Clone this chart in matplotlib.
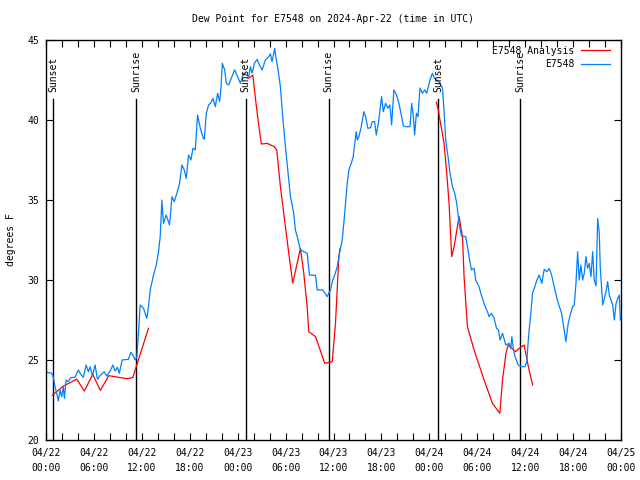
import numpy as np
import matplotlib
matplotlib.use("Agg")
import matplotlib.pyplot as plt
from matplotlib.ticker import MultipleLocator

plt.rcParams['font.family'] = ['DejaVu Sans Mono']
plt.rcParams['font.size'] = 7

title = "Dew Point for E7548 on 2024-Apr-22 (time in UTC)"
ylabel = "degrees F"

# hours since 2024-04-22 00:00 UTC
obs_hours = [0.13, 0.72, 0.92, 1.13, 1.34, 1.54, 1.76, 1.97, 2.17, 2.30, 2.51, 2.80, 3.10, 3.64, 4.05, 4.35,
             4.68, 5.02, 5.31, 5.52, 5.81, 6.15, 6.44, 6.77, 7.28, 7.61, 8.12, 8.37, 8.66, 8.94, 9.19, 9.53,
             10.32, 10.62, 10.88, 11.16, 11.38, 11.58, 11.79, 12.21, 12.63, 12.83, 13.05, 13.46, 13.80, 14.09,
             14.30, 14.51, 14.71, 15.05, 15.47, 15.77, 16.06, 16.39, 16.72, 17.02, 17.31, 17.56, 17.85, 18.15,
             18.40, 18.69, 18.98, 19.32, 19.66, 19.82, 20.07, 20.36, 20.66, 20.91, 21.20, 21.49, 21.74, 21.91,
             22.08, 22.37, 22.58, 22.87, 23.29, 23.62, 24.00, 24.34, 24.75, 25.38, 25.59, 25.80, 26.09, 26.43,
             26.72, 27.06, 27.47, 27.89, 28.10, 28.31, 28.64, 28.81, 29.06, 29.35, 29.64, 29.98, 30.32, 30.61,
             31.02, 31.23, 31.57, 31.86, 32.70, 32.99, 33.74, 33.96, 34.66, 35.21, 35.62, 35.91, 36.16, 36.47,
             36.75, 37.09, 37.29, 37.51, 37.72, 37.92, 38.22, 38.47, 38.64, 38.85, 38.97, 39.18, 39.48, 39.80,
             40.02, 40.30, 40.64, 40.86, 41.14, 41.36, 41.68, 42.02, 42.24, 42.52, 42.81, 43.06, 43.28, 43.56,
             43.90, 44.19, 44.49, 44.74, 45.03, 45.57, 45.79, 46.00, 46.16, 46.38, 46.58, 46.83, 47.13, 47.42,
             47.67, 47.83, 48.08, 48.38, 48.67, 49.21, 49.64, 49.84, 50.05, 50.34, 50.59, 50.89, 51.18, 51.43,
             51.72, 52.02, 52.56, 52.78, 52.97, 53.27, 53.60, 53.81, 54.23, 54.44, 54.78, 55.07, 55.28, 55.48,
             55.78, 56.11, 56.41, 56.66, 56.86, 57.16, 57.58, 57.99, 58.20, 58.33, 58.54, 58.74, 59.12, 59.55,
             59.96, 60.21, 60.30, 60.50, 60.71, 60.92, 61.21, 61.47, 61.75, 62.09, 62.38, 62.72, 63.01, 63.31,
             63.64, 63.97, 64.26, 64.56, 64.81, 65.10, 65.39, 65.64, 65.94, 66.15, 66.36, 66.57, 66.77, 66.98,
             67.20, 67.40, 67.61, 67.82, 68.03, 68.24, 68.45, 68.65, 68.87, 69.08, 69.28, 69.40, 69.58, 69.71,
             69.91, 70.12, 70.33, 70.53, 70.75, 70.96, 71.16, 71.38, 71.59, 71.79, 71.92]
obs_dewpt = [24.23, 24.17, 23.92, 23.33, 22.92, 22.44, 23.13, 22.71, 23.33, 22.60, 23.75, 23.65, 23.90, 23.92, 24.38, 24.10,
             23.92, 24.69, 24.27, 24.58, 24.00, 24.69, 23.79, 24.02, 24.27, 24.00, 24.38, 24.69, 24.31, 24.54, 24.17, 25.00,
             25.04, 25.48, 25.31, 25.00, 25.21, 26.67, 28.44, 28.23, 27.60, 28.33, 29.38, 30.31, 30.94, 31.77,
             32.71, 35.00, 33.54, 34.06, 33.44, 35.21, 34.90, 35.42, 36.04, 37.19, 36.88, 36.35, 37.81, 37.50,
             38.23, 38.13, 40.31, 39.48, 38.92, 38.79, 40.42, 40.94, 41.08, 41.35, 40.83, 41.67, 41.15, 42.00,
             43.54, 43.13, 42.29, 42.19, 42.71, 43.13, 42.71, 42.29, 42.92, 42.71, 43.33, 42.92, 43.54, 43.79,
             43.44, 43.13, 43.75, 43.96, 44.13, 43.65, 44.48, 43.85, 43.13, 42.08, 40.21, 38.33, 36.67, 35.21,
             34.17, 33.13, 32.50, 31.88, 31.67, 30.31, 30.29, 29.38, 29.38, 28.96, 29.38, 30.00, 30.31, 30.83,
             31.67, 32.50, 33.54, 34.79, 36.04, 36.88, 37.29, 37.71, 38.44, 39.27, 38.75, 38.96, 39.58, 40.52,
             40.21, 39.48, 39.52, 39.90, 39.90, 39.06, 40.00, 41.46, 40.52, 41.04, 40.73, 40.94, 39.69, 41.88,
             41.56, 41.04, 40.31, 39.63, 39.58, 39.58, 41.04, 40.21, 39.06, 40.42, 40.21, 42.00, 41.67, 41.88,
             41.67, 42.00, 42.50, 42.92, 42.60, 42.40, 42.00, 40.63, 38.75, 37.71, 36.67, 35.83, 35.42, 34.79,
             33.54, 32.75, 32.71, 32.08, 31.46, 30.63, 30.73, 30.00, 29.58, 29.17, 28.65, 28.23, 28.02, 27.71,
             27.92, 27.60, 26.98, 26.88, 26.25, 26.67, 25.94, 26.04, 25.73, 26.46, 25.63, 25.21, 24.69, 24.58,
             24.58, 24.90, 25.63, 26.88, 27.92, 29.17, 29.58, 30.00, 30.31, 29.79, 30.67, 30.52, 30.73, 30.31,
             29.58, 28.85, 28.38, 27.92, 27.08, 26.15, 27.29, 27.81, 28.33, 28.44, 29.79, 31.77, 30.00, 30.94,
             30.00, 30.42, 31.46, 30.73, 31.04, 30.21, 31.77, 30.00, 29.63, 33.85, 32.92, 30.83, 29.38, 28.44,
             28.85, 29.27, 29.90, 29.06, 28.75, 28.44, 27.50, 28.54, 28.85, 29.06, 27.50]

nan = float('nan')
ana_hours = [0.79, 2.17, 3.85, 4.80, 5.85, 6.80, 7.86, 9.28, 10.20, 10.87, 11.37, 12.83, 19.0,
             25.30, 25.90, 26.20, 26.60, 26.97, 27.70, 28.60, 28.90, 29.35, 29.98, 30.40, 30.90, 31.86,
             32.28, 32.70, 32.90, 33.75, 34.40, 34.90, 35.84, 36.25, 36.67, 36.80, 43.0,
             48.88, 49.08, 49.84, 50.18, 50.47, 50.80, 51.10, 51.72, 52.15, 52.35, 52.77, 53.60, 54.86,
             55.90, 56.83, 57.16, 57.60, 57.87, 58.80, 59.25, 59.87, 60.40, 60.93]
ana_dewpt = [22.79, 23.37, 23.80, 23.06, 24.10, 23.10, 24.02, 23.90, 23.83, 23.90, 24.69, 26.98, nan,
             42.60, 42.80, 41.45, 39.80, 38.50, 38.54, 38.33, 38.10, 35.83, 33.33, 31.67, 29.80, 31.98,
             30.42, 28.33, 26.77, 26.46, 25.52, 24.79, 24.90, 27.30, 31.46, 31.94, nan,
             41.10, 40.73, 38.54, 36.67, 34.79, 31.46, 32.08, 33.96, 32.71, 30.21, 27.08, 25.63, 23.75,
             22.29, 21.67, 23.75, 25.42, 25.94, 25.52, 25.73, 25.94, 24.58, 23.44]

sun_hours = [0.92, 11.33, 25.0, 35.42, 49.09, 59.38]
sun_labels = ["Sunset", "Sunrise", "Sunset", "Sunrise", "Sunset", "Sunrise"]
sun_line_top = 41.3

xtick_hours = list(range(0, 73, 6))
xtick_labels = ["04/22\n00:00", "04/22\n06:00", "04/22\n12:00", "04/22\n18:00",
                "04/23\n00:00", "04/23\n06:00", "04/23\n12:00", "04/23\n18:00",
                "04/24\n00:00", "04/24\n06:00", "04/24\n12:00", "04/24\n18:00",
                "04/25\n00:00"]
ytick_vals = [20, 25, 30, 35, 40, 45]

fig = plt.figure(figsize=(6.4, 4.8), dpi=100)
ax = fig.add_axes([46/640, 40/480, (621-46)/640, 400/480])

for h, lab in zip(sun_hours, sun_labels):
    ax.plot([h, h], [20, sun_line_top], color='black', lw=1.0)
    ax.text(h, 41.75, lab, rotation=90, ha='center', va='bottom', fontsize=7)

ax.plot(ana_hours, ana_dewpt, color='#ff0000', lw=0.9, label='E7548 Analysis')
ax.plot(obs_hours, obs_dewpt, color='#0080ff', lw=0.9, label='E7548')

ax.set_xlim(0, 72)
ax.set_ylim(20, 45)
ax.set_xticks(xtick_hours)
ax.set_xticklabels(xtick_labels, linespacing=1.6)
ax.xaxis.set_minor_locator(MultipleLocator(2))
ax.set_yticks(ytick_vals)
ax.tick_params(axis='both', which='both', direction='in', top=True, right=True,
               length=5, width=0.8, labelsize=7)
ax.tick_params(axis='x', which='major', pad=6)
ax.tick_params(axis='y', which='major', pad=5)
for s in ax.spines.values():
    s.set_linewidth(1.0)

ax.set_ylabel(ylabel, fontsize=7, labelpad=8)
fig.text(333/640, 1 - 19/480, title, ha='center', va='center', fontsize=7)

leg = ax.legend(loc='upper right', bbox_to_anchor=(1 - 6/575, 1 - 1/400),
                frameon=False, markerfirst=False, fontsize=7,
                handlelength=3.0, handletextpad=0.7, labelspacing=0.35,
                borderaxespad=0.2, borderpad=0.3)

fig.savefig('out.png', dpi=100)
